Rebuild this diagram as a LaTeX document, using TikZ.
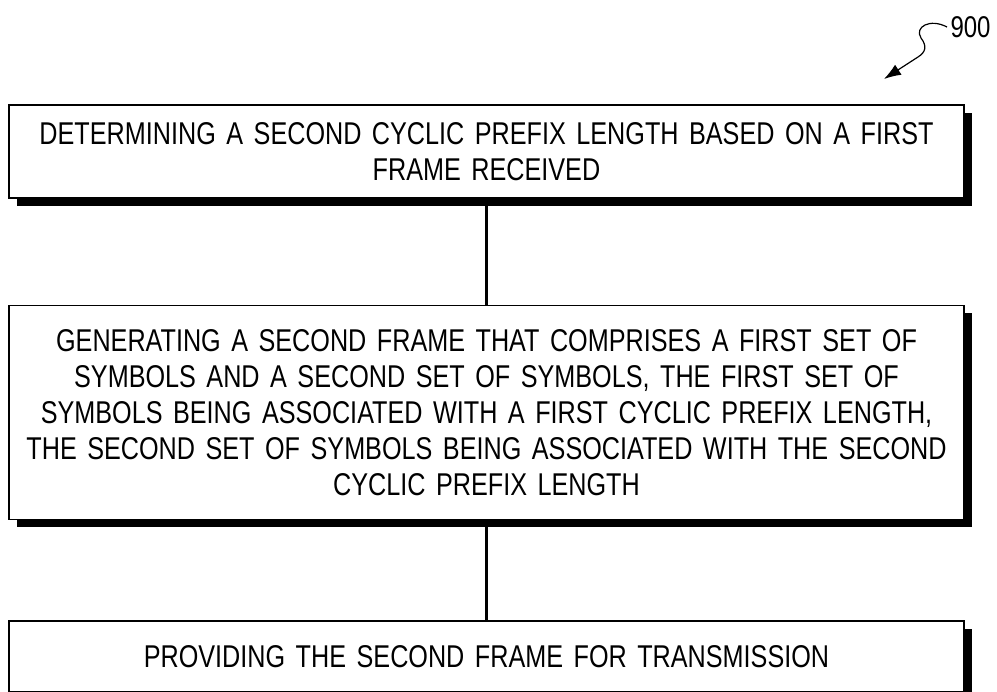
\documentclass[tikz,border=0pt]{standalone}
\usepackage{fontspec}
\setmainfont{Liberation Sans}[FakeStretch=0.8, WordSpace=0.85]
\usepackage{tikz}
\usetikzlibrary{matrix,arrows.meta,shadows}

\tikzset{
	stepbox/.style={draw, line width=1.5pt, fill=white, align=center,
		text width=935pt, inner xsep=10pt, inner ysep=0pt,
		font=\fontsize{31.5}{36}\selectfont,
		drop shadow={shadow xshift=8pt, shadow yshift=-8pt, opacity=1, fill=black}},
	link/.style={line width=3pt}
}

\begin{document}
\begin{tikzpicture}[x=1pt, y=-1pt]
		\useasboundingbox (0,0) rectangle (997,692);
		\matrix (b) [matrix of nodes, inner sep=0pt, anchor=north, row sep=100pt, nodes={stepbox}] at (486.5,104)
		{
			|[minimum height=93pt]|  {DETERMINING A SECOND CYCLIC PREFIX LENGTH BASED ON A FIRST\\FRAME RECEIVED} \\[6pt]
			|[minimum height=214pt]| {GENERATING A SECOND FRAME THAT COMPRISES A FIRST SET OF\\SYMBOLS AND A SECOND SET OF SYMBOLS, THE FIRST SET OF\\SYMBOLS BEING ASSOCIATED WITH A FIRST CYCLIC PREFIX LENGTH,\\THE SECOND SET OF SYMBOLS BEING ASSOCIATED WITH THE SECOND\\CYCLIC PREFIX LENGTH} \\
			|[minimum height=71pt]|  {PROVIDING THE SECOND FRAME FOR TRANSMISSION} \\
		};
		\path[link]
		(b-1-1) edge (b-2-1)
		(b-2-1) edge (b-3-1);
		% reference numeral
		\node (n900) [font=\fontsize{30}{32}\selectfont, anchor=west] at (947,27) {900};
		\draw[line width=1.2pt, -{Latex[length=17pt, width=12pt]}]
		(n900.west) .. controls (930,18) and (914,27) .. (921,38)
		.. controls (927,46) and (926,52) .. (918,57) -- (884,79);
	\end{tikzpicture}
\end{document}
